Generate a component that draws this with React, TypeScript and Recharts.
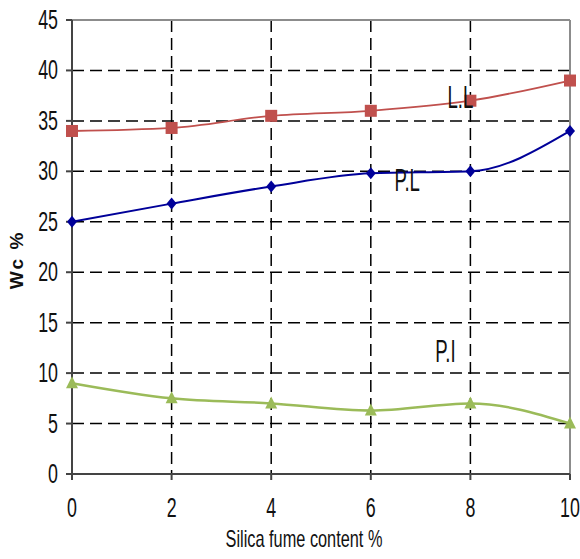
import React from "react";
import {
  LineChart,
  Line,
  XAxis,
  YAxis,
  CartesianGrid,
  ReferenceDot,
  ReferenceLine,
} from "recharts";

const silicaFume = [0, 2, 4, 6, 8, 10];
const liquidLimit = [34, 34.3, 35.5, 36, 37, 39];
const plasticLimit = [25, 26.8, 28.5, 29.8, 30, 34];
const plasticityIndex = [9, 7.5, 7, 6.3, 7, 5];
const yTicks = [0, 5, 10, 15, 20, 25, 30, 35, 40, 45];
const xTicks = [0, 2, 4, 6, 8, 10];

const seriesLabels = [
  { text: "L.L", x: 7.8, y: 37.4 },
  { text: "P.L", x: 6.73, y: 29.1 },
  { text: "P.I", x: 7.5, y: 12.2 },
];

const data = silicaFume.map((x, i) => ({
  x,
  ll: liquidLimit[i],
  pl: plasticLimit[i],
  pi: plasticityIndex[i],
}));

const FONT = "'Liberation Sans', Arial, sans-serif";
const NARROW = 0.66;

const Square = (props: any) => {
  const { cx, cy } = props;
  if (cx == null || cy == null) return null;
  return <rect x={cx - 6} y={cy - 6} width={12} height={12} fill="#C0504D" />;
};
const Diamond = (props: any) => {
  const { cx, cy } = props;
  if (cx == null || cy == null) return null;
  return (
    <polygon
      points={`${cx},${cy - 6} ${cx + 5},${cy} ${cx},${cy + 6} ${cx - 5},${cy}`}
      fill="#000099"
    />
  );
};
const Triangle = (props: any) => {
  const { cx, cy } = props;
  if (cx == null || cy == null) return null;
  return (
    <polygon
      points={`${cx},${cy - 7} ${cx + 6},${cy + 5} ${cx - 6},${cy + 5}`}
      fill="#9BBB59"
    />
  );
};

const YTick = (props: any) => {
  const { x, y, payload } = props;
  return (
    <text
      transform={`translate(${x},${y + 9}) scale(${NARROW},1)`}
      textAnchor="end"
      fill="#111"
      fontSize={27}
      fontFamily={FONT}
    >
      {payload.value}
    </text>
  );
};

const XTick = (props: any) => {
  const { x, y, payload } = props;
  return (
    <text
      transform={`translate(${x},${y + 37}) scale(${NARROW},1)`}
      textAnchor="middle"
      fill="#111"
      fontSize={27}
      fontFamily={FONT}
    >
      {payload.value}
    </text>
  );
};

const XLabel = (props: any) => {
  const vb = props.viewBox || { x: 0, y: 0, width: 0, height: 0 };
  return (
    <text
      transform={`translate(${vb.x + vb.width / 2 - 17},${vb.y + 73}) scale(0.68,1)`}
      textAnchor="middle"
      fill="#111"
      fontSize={24}
      fontFamily={FONT}
    >
      Silica fume content %
    </text>
  );
};

const YLabel = (props: any) => {
  const vb = props.viewBox || { x: 0, y: 0, width: 0, height: 0 };
  return (
    <text
      transform={`translate(${vb.x + 16},${vb.y + 240}) rotate(-90)`}
      textAnchor="middle"
      dominantBaseline="central"
      fill="#111"
      fontSize={19}
      fontWeight="bold"
      letterSpacing={2}
      fontFamily={FONT}
    >
      Wc %
    </text>
  );
};

const makeLabelShape = (text: string) => (props: any) => {
  const { cx, cy } = props;
  if (cx == null || cy == null) return null;
  return (
    <text
      transform={`translate(${cx},${cy + 11}) scale(0.6,1)`}
      textAnchor="middle"
      fill="#111"
      fontSize={31}
      fontFamily={FONT}
    >
      {text}
    </text>
  );
};

export default function App() {
  return (
    <div style={{ position: "absolute", left: 0, top: 0, background: "#fff" }}>
      <LineChart
        width={580}
        height={559}
        data={data}
        margin={{ top: 20, right: 10, bottom: 10, left: 0 }}
      >
        <CartesianGrid
          stroke="#000"
          strokeDasharray="12 6"
          strokeWidth={1.5}
          horizontalValues={[5, 10, 15, 20, 25, 30, 35, 40]}
          verticalValues={[2, 4, 6, 8]}
        />
        <ReferenceLine y={45} stroke="#8c8c8c" strokeWidth={2} />
        <ReferenceLine x={10} stroke="#8c8c8c" strokeWidth={2} />
        <XAxis
          dataKey="x"
          type="number"
          domain={[0, 10]}
          ticks={xTicks}
          height={75}
          stroke="#444"
          strokeWidth={2}
          tickSize={6}
          tickMargin={0}
          tick={<XTick />}
          label={<XLabel />}
        />
        <YAxis
          type="number"
          domain={[0, 45]}
          ticks={yTicks}
          width={72}
          stroke="#444"
          strokeWidth={2}
          tickSize={6}
          tickMargin={8}
          tick={<YTick />}
          label={<YLabel />}
        />
        <Line
          type="monotone"
          dataKey="ll"
          stroke="#C0504D"
          strokeWidth={1.8}
          dot={<Square />}
          isAnimationActive={false}
        />
        <Line
          type="monotone"
          dataKey="pl"
          stroke="#000099"
          strokeWidth={2}
          dot={<Diamond />}
          isAnimationActive={false}
        />
        <Line
          type="monotone"
          dataKey="pi"
          stroke="#9BBB59"
          strokeWidth={2.5}
          dot={<Triangle />}
          isAnimationActive={false}
        />
        {seriesLabels.map((l) => (
          <ReferenceDot
            key={l.text}
            x={l.x}
            y={l.y}
            r={0}
            shape={makeLabelShape(l.text)}
          />
        ))}
      </LineChart>
    </div>
  );
}
